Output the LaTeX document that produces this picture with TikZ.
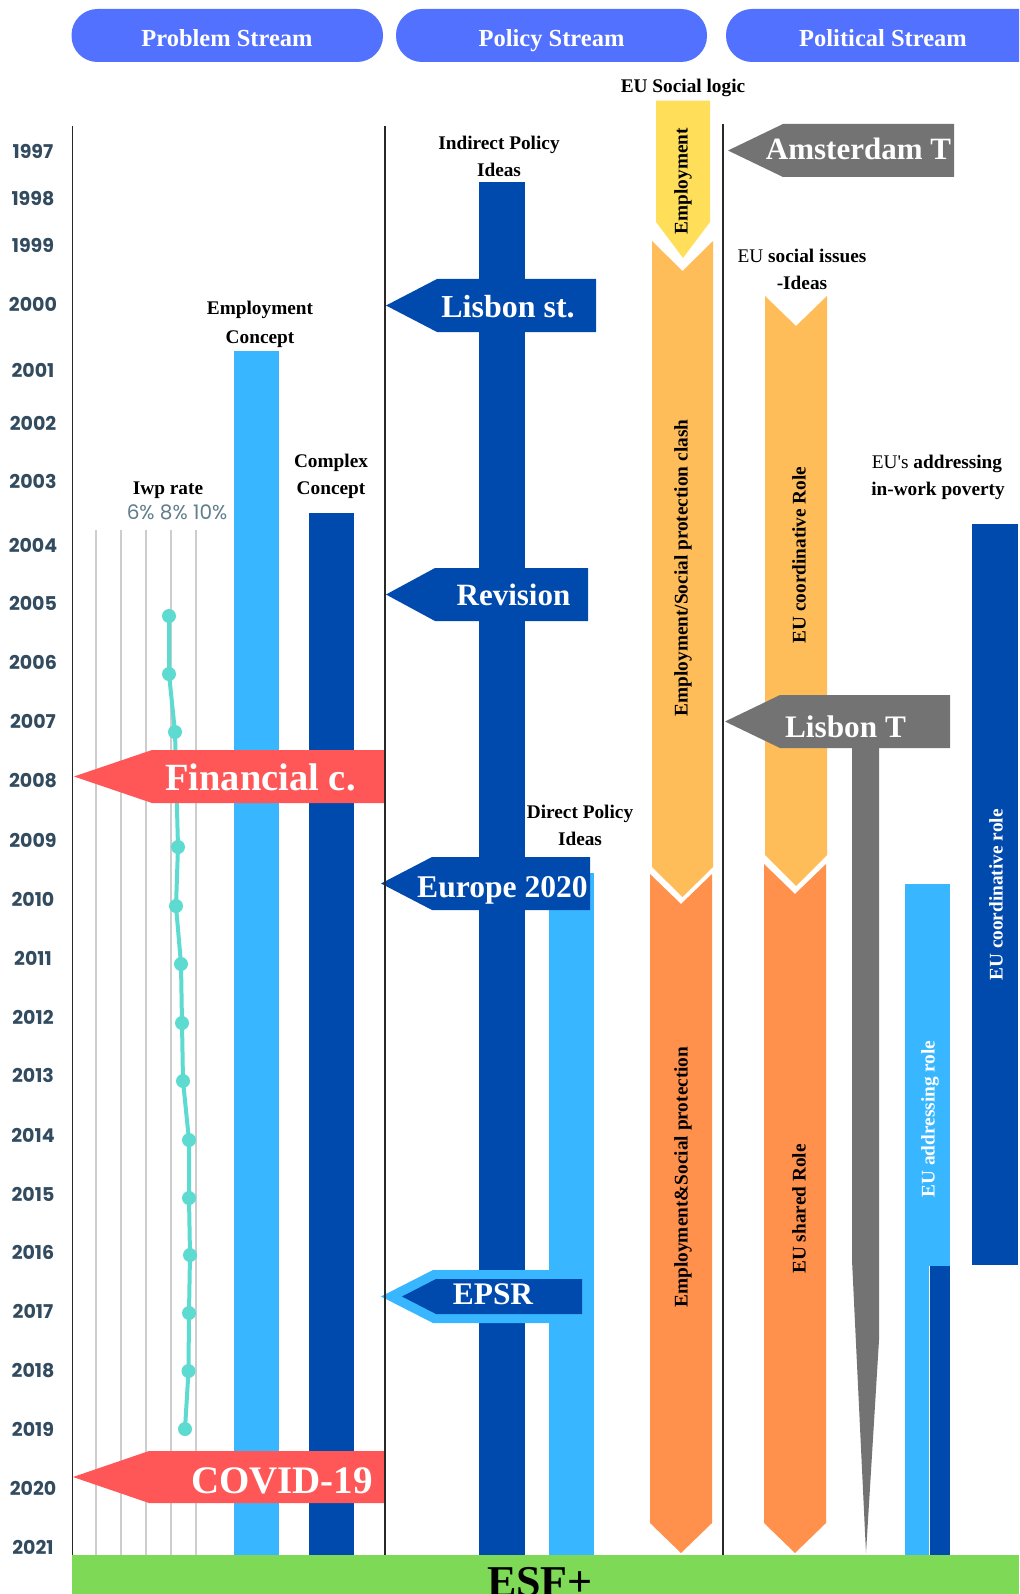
\documentclass[tikz,border=0pt]{standalone}
\usepackage{fontspec}
\setmainfont{Liberation Serif}
\newfontfamily\yearfont{Poppins}
\newfontfamily\rawserif{Liberation Serif}[Ligatures=ResetAll]
\definecolor{pill}{RGB}{82,113,255}
\definecolor{dblue}{RGB}{0,74,173}
\definecolor{lblue}{RGB}{56,182,255}
\definecolor{coral}{RGB}{255,87,87}
\definecolor{grayA}{RGB}{115,115,115}
\definecolor{yel}{RGB}{255,222,89}
\definecolor{lorange}{RGB}{255,189,89}
\definecolor{dorange}{RGB}{255,145,77}
\definecolor{esfgreen}{RGB}{126,217,87}
\definecolor{tealc}{RGB}{94,219,208}
\definecolor{yearcol}{RGB}{50,75,95}
\definecolor{pctcol}{RGB}{95,125,140}
\definecolor{gridcol}{RGB}{205,205,205}
\definecolor{linecol}{RGB}{40,40,40}
\begin{document}
\begin{tikzpicture}[x=1pt,y=-1pt,
  hdr/.style={anchor=base, inner sep=0, text=white, font=\fontsize{24.5}{28}\selectfont\bfseries},
  lbl/.style={anchor=base, inner sep=0, font=\fontsize{19.3}{23}\selectfont\bfseries},
  rot/.style={rotate=90, inner sep=0, font=\fontsize{19.3}{23}\selectfont\bfseries},
  arrtxt/.style={anchor=base, inner sep=0, text=white},
  yearlbl/.style={anchor=base, inner sep=0, text=yearcol, font=\yearfont\fontsize{19}{22}\selectfont\bfseries},
  axis/.style={linecol, line width=1.8}]
\useasboundingbox (0,0) rectangle (1019,1594);
\clip (0,0) rectangle (1019,1594);
\fill[white] (0,0) rectangle (1019,1594);

% headers
\fill[pill, rounded corners=26] (71.5,9) rectangle (383,62);
\fill[pill, rounded corners=26] (396,9) rectangle (707,62);
\fill[pill, rounded corners=26] (726,9) rectangle (1045,62);
\node[hdr] (hprob) at (227,47) {Problem Stream};
\node[hdr] (hpol) at (551.5,47) {Policy Stream};
\node[hdr] (hpolit) at (883,47) {Political Stream};

% years
\foreach \yr/\yy in {1997/151.5,1998/198,1999/245,2000/304,2001/370,2002/423,2003/481,2004/545,2005/603,2006/662,2007/721,2008/780,2009/840,2010/899,2011/958,2012/1017,2013/1075,2014/1135,2015/1194,2016/1252,2017/1311,2018/1370,2019/1429,2020/1488,2021/1547}
  \node[yearlbl] (y\yr) at (33,\yy+7.5) {\yr};

% ---------- Problem stream ----------
\foreach \gx in {96,121,146,171,196} \draw[gridcol, line width=1.5] (\gx,530) -- (\gx,1555);
\node[lbl] (iwp) at (168,494) {Iwp rate};
\node[anchor=base, inner sep=0, text=pctcol, font=\yearfont\fontsize{20}{22}\selectfont] (pct) at (177,519) {6\% 8\% 10\%};
\draw[tealc, line width=4, line join=round] plot coordinates {(169,616) (169,674) (175,732) (178,847) (176,906) (181,964) (182,1023) (183,1081) (189,1140) (189,1198) (190,1255) (189,1313) (188.5,1371) (185,1429)};
\foreach \p in {(169,616),(169,674),(175,732),(178,847),(176,906),(181,964),(182,1023),(183,1081),(189,1140),(189,1198),(190,1255),(189,1313),(188.5,1371),(185,1429)}
  \fill[tealc] \p circle (7);

\fill[lblue] (234,351) rectangle (279,1555);
\node[lbl] (ec1) at (260,315) {Employment};
\node[lbl] (ec2) at (260,343) {Concept};
\fill[dblue] (309,513) rectangle (354,1555);
\node[lbl] (cc1) at (331,467) {Complex};
\node[lbl] (cc2) at (331,494) {Concept};

\fill[coral] (385,750) -- (152,750) -- (74,776.5) -- (152,803) -- (385,803) -- cycle;
\node[arrtxt, font=\fontsize{38.5}{40}\selectfont\bfseries] (fin) at (260.5,790) {Financial c.};
\fill[coral] (385,1451) -- (149,1451) -- (73,1477) -- (149,1503) -- (385,1503) -- cycle;
\node[arrtxt, font=\fontsize{39}{40}\selectfont\bfseries] (covid) at (282,1493) {COVID-19};

% ---------- Policy stream ----------
\fill[dblue] (479,182) rectangle (525,1555);
\node[lbl] (ipi1) at (499,150) {Indirect Policy};
\node[lbl] (ipi2) at (499,177) {Ideas};
\fill[lblue] (549,873) rectangle (594,1555);
\node[lbl] (dpi1) at (580,818) {Direct Policy};
\node[lbl] (dpi2) at (580,845) {Ideas};

\fill[dblue] (596,279) -- (437,279) -- (386,305.5) -- (437,332) -- (596,332) -- cycle;
\node[arrtxt, font=\fontsize{32}{34}\selectfont\bfseries] (lis) at (508,317) {Lisbon st.};
\fill[dblue] (588,568) -- (435,568) -- (386,594.5) -- (435,621) -- (588,621) -- cycle;
\node[arrtxt, font=\fontsize{31}{34}\selectfont\bfseries] (rev) at (513.5,605) {Revision};
\fill[dblue] (590,857) -- (432,857) -- (381,883.5) -- (432,910) -- (590,910) -- cycle;
\node[arrtxt, font=\fontsize{31.6}{34}\selectfont\bfseries] (e2020) at (502.5,897) {Europe 2020};
\fill[lblue] (591,1270) -- (433,1270) -- (381,1296.5) -- (433,1323) -- (591,1323) -- cycle;
\fill[dblue] (582,1279) -- (436,1279) -- (402,1296.5) -- (436,1314) -- (582,1314) -- cycle;
\node[arrtxt, font=\fontsize{31.4}{34}\selectfont\bfseries] (epsr) at (493,1304) {EPSR};

% EU social logic chevrons
\node[lbl] (esl) at (683,93) {EU Social logic};
\fill[yel] (656,100.7) -- (710,100.7) -- (710,222) -- (683,258) -- (656,222) -- cycle;
\fill[lorange] (652,241) -- (682.5,271) -- (713,241) -- (713,867) -- (682.5,897) -- (652,867) -- cycle;
\fill[dorange] (650,874) -- (681,904) -- (712,874) -- (712,1523) -- (681,1553) -- (650,1523) -- cycle;
\node[rot] (emp) at (683,181) {Employment};
\node[rot] (clash) at (683,568) {Employment/Social protection clash};
\node[rot] (esp) at (683,1177) {Employment\&Social protection};

% ---------- Political stream ----------
\node[lbl] (esi1) at (802,263) {{\mdseries EU} social issues};
\node[lbl] (esi2) at (802,290) {-Ideas};
\fill[lorange] (765,296) -- (796,326) -- (827,296) -- (827,855) -- (796,886) -- (765,855) -- cycle;
\fill[dorange] (764,864) -- (795,894) -- (826,864) -- (826,1523) -- (795,1553) -- (764,1523) -- cycle;
\node[rot] (ecr) at (799,555) {EU coordinative Role};
\node[rot] (esr) at (799,1209) {EU shared Role};

\fill[grayA] (954,124) -- (783,124) -- (728,150.5) -- (783,177) -- (954,177) -- cycle;
\node[arrtxt, font=\fontsize{31}{34}\selectfont\bfseries] (ams) at (858.5,160) {Amsterdam T};

\fill[grayA] (852,740) -- (879,740) -- (879,1340) -- (866,1553) -- (852,1260) -- cycle;
\fill[grayA] (950,695) -- (780,695) -- (725,721.5) -- (780,748) -- (950,748) -- cycle;
\node[arrtxt, font=\fontsize{31.3}{34}\selectfont\bfseries] (lisT) at (845.5,737) {Lisbon T};

\node[lbl] (ead1) at (937,468) {{\rawserif\mdseries EU's} addressing};
\node[lbl] (ead2) at (938,495) {in-work poverty};
\fill[dblue] (972,524) rectangle (1018,1265);
\node[rot, text=white] (ecr2) at (996,895) {EU coordinative role};
\fill[lblue] (905,884) rectangle (950,1266);
\fill[lblue] (905,1266) rectangle (928.5,1555);
\fill[dblue] (930,1266) rectangle (949.5,1555);
\node[rot, text=white] (ear) at (930,1119) {EU addressing role};

% axis lines
\draw[axis] (72.5,126) -- (72.5,1555);
\draw[axis] (385,126) -- (385,1555);
\draw[axis] (723,124) -- (723,1555);

% ESF+
\fill[esfgreen] (72,1555) rectangle (1019,1594);
\node[anchor=base, inner sep=0, font=\fontsize{44}{44}\selectfont\bfseries] (esf) at (540,1596) {ESF+};
\end{tikzpicture}
\end{document}
